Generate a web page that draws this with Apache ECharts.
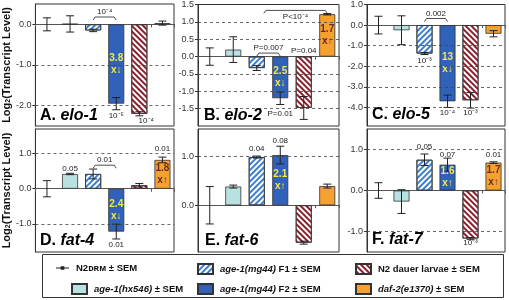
<!DOCTYPE html>
<html>
<head>
<meta charset="utf-8">
<script src="https://cdn.jsdelivr.net/npm/echarts@6/dist/echarts.min.js"></script>
<style>
html, body { margin: 0; padding: 0; background: #fff; }
#main { width: 509px; height: 300px; }
</style>
</head>
<body>
<div id="main"></div>
<script>
var groups = ['N2DRM', 'age-1(hx546)', 'age-1(mg44) F1', 'age-1(mg44) F2', 'N2 dauer larvae', 'daf-2(e1370)'];
var genes = ['elo-1', 'elo-2', 'elo-5', 'fat-4', 'fat-6', 'fat-7'];
var letters = ['A', 'B', 'C', 'D', 'E', 'F'];

// log2 mean and SEM, in groups order
var elo1Mean = [0, 0.01, -0.15, -1.95, -2.2, 0.03];
var elo1Sem = [0.16, 0.2, 0.03, 0.15, 0.05, 0.05];
var elo2Mean = [0, 0.2, -0.33, -1.2, -1.48, 1.22];
var elo2Sem = [0.25, 0.37, 0.07, 0.18, 0.33, 0.02];
var elo5Mean = [0, -0.25, -1.38, -3.7, -3.65, -0.42];
var elo5Sem = [0.43, 0.7, 0.05, 0.3, 0.38, 0.15];
var fat4Mean = [0, 0.42, 0.42, -1.22, 0.1, 0.82];
var fat4Sem = [0.23, 0.02, 0.14, 0.21, 0.05, 0.08];
var fat6Mean = [0, 0.38, 0.98, 1.02, -0.76, 0.39];
var fat6Sem = [0.38, 0.03, 0.02, 0.18, 0.03, 0.04];
var fat7Mean = [0, -0.27, 0.75, 0.63, -1.17, 0.68];
var fat7Sem = [0.19, 0.29, 0.14, 0.16, 0.02, 0.02];

// y axis ticks and ranges
var elo1Ticks = [0, -1, -2];
var elo2Ticks = [1.5, 1, 0.5, 0, -0.5, -1, -1.5];
var elo5Ticks = [1, 0, -1, -2, -3, -4];
var fat4Ticks = [1, 0, -1];
var fat6Ticks = [1, 0];
var fat7Ticks = [1, 0, -1];
var yMin = [-2.5, -2, -4.9, -1.8, -0.95, -1.5];
var yMax = [0.5, 1.5, 1, 1.7, 1.55, 1.5];

// brackets: [from, to, y, p]
var elo1Brackets = [[2, 3, 0.18, '10⁻⁴']];
var elo2Brackets = [[2, 3, 0.1, 'P=0.007'], [2.3, 5, 1.33, 'P<10⁻⁴']];
var elo5Brackets = [[2, 3, 0.32, '0.002']];
var fat4Brackets = [[2, 3, 0.67, '0.01']];
var fat6Brackets = [];
var fat7Brackets = [];

// single p values: [group, y, p]
var elo1Labels = [[3, -2.26, '10⁻⁵'], [4.3, -2.37, '10⁻⁴']];
var elo2Labels = [[4, 0.16, 'P=0.04'], [3, -1.64, 'P=0.01']];
var elo5Labels = [[2, -1.74, '10⁻³'], [3, -4.25, '10⁻⁴'], [4, -4.25, '10⁻³']];
var fat4Labels = [[1, 0.57, '0.05'], [3, -1.59, '0.01'], [5, 1.13, '0.01']];
var fat6Labels = [[2, 1.14, '0.04'], [3, 1.32, '0.08']];
var fat7Labels = [[2, 1.07, '0.05'], [3, 0.87, '0.07'], [5, 0.86, '0.01'], [4, -1.27, '10⁻³']];

// fold change written in the bar: [group, fold, arrow]
var elo1Fold = [[3, '3.8', '↓']];
var elo2Fold = [[3, '2.5', '↓'], [5, '1.7', '↑']];
var elo5Fold = [[3, '13', '↓']];
var fat4Fold = [[3, '2.4', '↓'], [5, '1.8', '↑']];
var fat6Fold = [[3, '2.1', '↑']];
var fat7Fold = [[3, '1.6', '↑'], [5, '1.7', '↑']];

var means = [elo1Mean, elo2Mean, elo5Mean, fat4Mean, fat6Mean, fat7Mean];
var sems = [elo1Sem, elo2Sem, elo5Sem, fat4Sem, fat6Sem, fat7Sem];
var ticks = [elo1Ticks, elo2Ticks, elo5Ticks, fat4Ticks, fat6Ticks, fat7Ticks];
var brackets = [elo1Brackets, elo2Brackets, elo5Brackets, fat4Brackets, fat6Brackets, fat7Brackets];
var labels = [elo1Labels, elo2Labels, elo5Labels, fat4Labels, fat6Labels, fat7Labels];
var folds = [elo1Fold, elo2Fold, elo5Fold, fat4Fold, fat6Fold, fat7Fold];

var FONT = 'Liberation Sans, Arial, sans-serif';
var gridBox = [
    { left: 33, top: 4, width: 141, height: 122 },
    { left: 198, top: 4, width: 141, height: 122 },
    { left: 367, top: 4, width: 138, height: 122 },
    { left: 33, top: 129, width: 141, height: 123 },
    { left: 198, top: 129, width: 141, height: 123 },
    { left: 367, top: 129, width: 138, height: 123 }
];
var titlePos = [[40, 108], [204, 108], [372, 107], [40, 233], [205, 233], [372, 232]];
var legendPos = [[56, 263], [71, 283], [197, 263], [197, 283], [355, 263], [355, 283]];

var barStyles = [
    { color: '#222' },
    { color: '#b8e2e2', borderColor: '#333', borderWidth: 0.8 },
    { color: '#ffffff', borderColor: '#333', borderWidth: 0.8,
      decal: { symbol: 'rect', dashArrayX: [1, 0], dashArrayY: [2, 2], rotation: -Math.PI / 4, color: '#3d7fcf' } },
    { color: '#2f62b8', borderColor: '#333', borderWidth: 0.8 },
    { color: '#ffffff', borderColor: '#333', borderWidth: 0.8,
      decal: { symbol: 'rect', dashArrayX: [1, 0], dashArrayY: [2, 2], rotation: Math.PI / 4, color: '#8b1f2d' } },
    { color: '#f5a12f', borderColor: '#333', borderWidth: 0.8 }
];

function xAt(api, i) {
    var f = Math.floor(i);
    return api.coord([f, 0])[0] + (i - f) * api.size([1, 0])[0];
}

function errorItem(params, api) {
    var i = api.value(0), m = api.value(1), s = api.value(2);
    var x = api.coord([i, 0])[0];
    var hi = api.coord([i, m + s])[1];
    var lo = api.coord([i, m - s])[1];
    var st = { stroke: '#222', lineWidth: 1 };
    return {
        type: 'group',
        children: [
            { type: 'line', shape: { x1: x, y1: hi, x2: x, y2: lo }, style: st },
            { type: 'line', shape: { x1: x - 4, y1: hi, x2: x + 4, y2: hi }, style: st },
            { type: 'line', shape: { x1: x - 4, y1: lo, x2: x + 4, y2: lo }, style: st }
        ]
    };
}

function annoRenderer(list, mean) {
    return function (params, api) {
        var a = list[params.dataIndex];
        var top = params.coordSys.y;
        if (a.kind === 'bracket') {
            var x0 = xAt(api, a.x0), x1 = xAt(api, a.x1);
            var y = api.coord([0, a.y])[1];
            var below = (y - top) < 12;
            return {
                type: 'group',
                children: [
                    { type: 'polyline', shape: { points: [[x0, y + 3], [x0 + 2, y], [x1 - 2, y], [x1, y + 3]] },
                      style: { stroke: '#222', fill: null, lineWidth: 0.8 } },
                    { type: 'text', x: (x0 + x1) / 2, y: below ? y + 6 : y - 5,
                      style: { text: a.text, fill: '#222', fontSize: 8, fontFamily: FONT, align: 'center', verticalAlign: 'middle' } }
                ]
            };
        }
        if (a.kind === 'label') {
            return {
                type: 'text', x: xAt(api, a.x), y: api.coord([0, a.y])[1],
                style: { text: a.text, fill: '#222', fontSize: 8, fontFamily: FONT, align: 'center', verticalAlign: 'middle' }
            };
        }
        var xc = api.coord([a.x, 0])[0];
        var y0 = api.coord([a.x, 0])[1], y1 = api.coord([a.x, mean[a.x]])[1];
        return {
            type: 'text', x: xc, y: (y0 + y1) / 2,
            style: { text: a.text, fill: a.x === 3 ? '#f3e84a' : '#6a2a2a', fontSize: 10, fontWeight: 'bold',
                     fontFamily: FONT, align: 'center', verticalAlign: 'middle', lineHeight: 12 }
        };
    };
}

var option = {
    animation: false,
    textStyle: { fontFamily: FONT },
    grid: [], xAxis: [], yAxis: [], series: [], title: [], legend: [],
    graphic: [{
        type: 'rect', shape: { x: 42.5, y: 254.5, width: 461, height: 43 },
        style: { fill: 'none', stroke: '#333', lineWidth: 1 }, silent: true
    }]
};

for (var p = 0; p < 6; p++) {
    option.grid.push({
        left: gridBox[p].left, top: gridBox[p].top, width: gridBox[p].width, height: gridBox[p].height,
        show: true, borderColor: '#333', borderWidth: 1
    });
    option.xAxis.push({
        gridIndex: p, type: 'category', data: groups,
        axisLabel: { show: false },
        axisTick: { show: true, length: 3, lineStyle: { color: '#555' } },
        axisLine: { onZero: true, lineStyle: { color: '#555' } }
    });
    var yAx = {
        gridIndex: p, type: 'value', min: yMin[p], max: yMax[p],
        splitLine: { show: false },
        axisLine: { show: true, lineStyle: { color: '#333' } },
        axisTick: { show: true, length: 3, customValues: ticks[p], lineStyle: { color: '#333' } },
        axisLabel: { customValues: ticks[p], fontSize: 9, color: '#333', margin: 4,
                     formatter: function (v) { return v.toFixed(1); } }
    };
    if (p === 0 || p === 3) {
        yAx.name = 'Log{s|2}(Transcript Level)';
        yAx.nameLocation = 'middle';
        yAx.nameGap = 19;
        yAx.nameTextStyle = { fontSize: 11, fontWeight: 'bold', color: '#111',
            rich: { s: { fontSize: 7, fontWeight: 'bold', color: '#111', verticalAlign: 'bottom', padding: [4, 0, 0, 0] } } };
    }
    option.yAxis.push(yAx);

    // dashed reference lines at the labelled ticks
    var dashes = ticks[p].filter(function (t) { return t !== 0 && t !== yMax[p]; })
        .map(function (t) { return { yAxis: t }; });

    for (var g = 0; g < groups.length; g++) {
        var s = {
            type: 'bar', name: groups[g], xAxisIndex: p, yAxisIndex: p,
            data: means[p].map(function (v, i) { return (i === g && g > 0) ? v : '-'; }),
            barWidth: 16, barGap: '-100%', itemStyle: barStyles[g], z: 2, silent: true
        };
        if (g === 1) {
            s.markLine = { silent: true, symbol: 'none', label: { show: false },
                lineStyle: { type: [3, 3], color: '#444', width: 0.8 }, data: dashes };
        }
        option.series.push(s);
    }

    option.series.push({
        type: 'custom', name: 'SEM', xAxisIndex: p, yAxisIndex: p, z: 3, silent: true,
        renderItem: errorItem,
        data: means[p].map(function (v, i) { return [i, v, sems[p][i]]; })
    });

    var list = [];
    brackets[p].forEach(function (b) { list.push({ kind: 'bracket', x0: b[0], x1: b[1], y: b[2], text: b[3] }); });
    labels[p].forEach(function (l) { list.push({ kind: 'label', x: l[0], y: l[1], text: l[2] }); });
    folds[p].forEach(function (f) { list.push({ kind: 'fold', x: f[0], text: f[1] + '\nx' + f[2] }); });
    option.series.push({
        type: 'custom', name: 'P', xAxisIndex: p, yAxisIndex: p, z: 4, silent: true,
        renderItem: annoRenderer(list, means[p]),
        data: list.map(function (a) { return [0, 0]; })
    });

    option.title.push({
        text: '{l|' + letters[p] + '. }{g|' + genes[p] + '}',
        left: titlePos[p][0], top: titlePos[p][1], padding: 0,
        textStyle: { rich: {
            l: { fontSize: 16, fontWeight: 'bold', color: '#000', fontFamily: FONT },
            g: { fontSize: 16, fontWeight: 'bold', fontStyle: 'italic', color: '#000', fontFamily: FONT }
        } }
    });
}

var legendText = {
    'N2DRM': 'N2ᴅʀᴍ ± SEM',
    'age-1(hx546)': '{i|age-1(hx546)} ± SEM',
    'age-1(mg44) F1': '{i|age-1(mg44)} F1 ± SEM',
    'age-1(mg44) F2': '{i|age-1(mg44)} F2 ± SEM',
    'N2 dauer larvae': 'N2 dauer larvae ± SEM',
    'daf-2(e1370)': '{i|daf-2(e1370)} ± SEM'
};
for (var k = 0; k < groups.length; k++) {
    option.legend.push({
        data: [k === 0 ? { name: groups[0], icon: 'path://M0,2h14v1h-14z M5,0.5h4v4h-4z' } : { name: groups[k], icon: 'rect' }],
        left: legendPos[k][0], top: legendPos[k][1], padding: 0,
        itemWidth: k === 0 ? 13 : 15, itemHeight: k === 0 ? 5 : 10,
        selectedMode: false,
        formatter: function (n) { return legendText[n]; },
        textStyle: { fontSize: 9.5, fontWeight: 'bold', color: '#111', padding: [0, 0, 0, 2],
            rich: {
                i: { fontSize: 9.5, fontWeight: 'bold', fontStyle: 'italic', color: '#111' }
            } }
    });
}

var chart = echarts.init(document.getElementById('main'));
chart.setOption(option);
window.onresize = function () {
    chart.resize();
};
</script>
</body>
</html>
